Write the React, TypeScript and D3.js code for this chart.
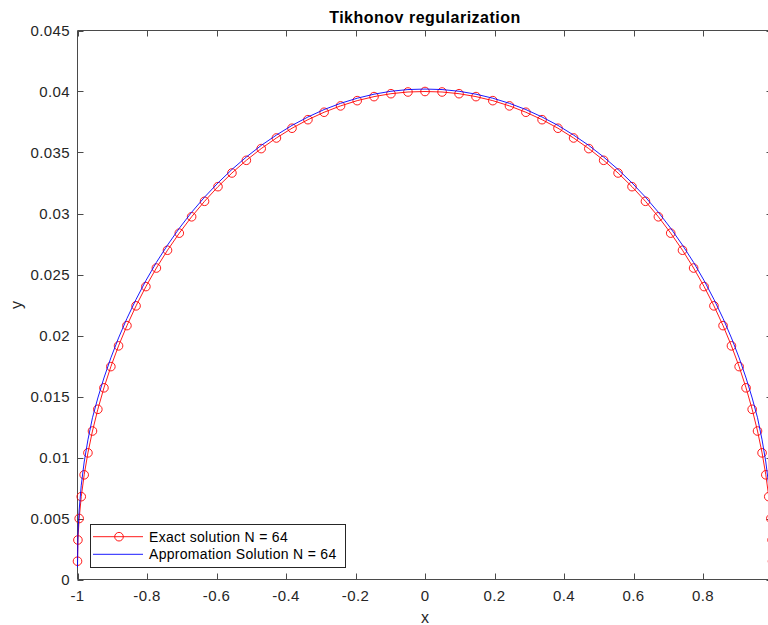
import React from 'react';
import * as d3 from 'd3';

// Node positions (x)
const xValues = [
  -1, -0.9988, -0.9952, -0.9892, -0.9808, -0.97, -0.9569, -0.9415, -0.9239, -0.904, -0.8819,
  -0.8577, -0.8315, -0.8032, -0.773, -0.741, -0.7071, -0.6716, -0.6344, -0.5957, -0.5556,
  -0.5141, -0.4714, -0.4276, -0.3827, -0.3369, -0.2903, -0.243, -0.1951, -0.1467, -0.098,
  -0.0491, 0, 0.0491, 0.098, 0.1467, 0.1951, 0.243, 0.2903, 0.3369, 0.3827, 0.4276, 0.4714,
  0.5141, 0.5556, 0.5957, 0.6344, 0.6716, 0.7071, 0.741, 0.773, 0.8032, 0.8315, 0.8577,
  0.8819, 0.904, 0.9239, 0.9415, 0.9569, 0.97, 0.9808, 0.9892, 0.9952, 0.9988, 1,
];

// Exact solution (red circles)
const exactValues = [
  0.0015, 0.00324, 0.005, 0.00679, 0.00858, 0.01038, 0.01217, 0.01395, 0.01571, 0.01745,
  0.01915, 0.02081, 0.02243, 0.02401, 0.02553, 0.02699, 0.02839, 0.02973, 0.031, 0.0322,
  0.03332, 0.03436, 0.03532, 0.03619, 0.03699, 0.03769, 0.0383, 0.03882, 0.03925, 0.03958,
  0.03982, 0.03996, 0.04, 0.03996, 0.03982, 0.03958, 0.03925, 0.03882, 0.0383, 0.03769,
  0.03699, 0.03619, 0.03532, 0.03436, 0.03332, 0.0322, 0.031, 0.02973, 0.02839, 0.02699,
  0.02553, 0.02401, 0.02243, 0.02081, 0.01915, 0.01745, 0.01571, 0.01395, 0.01217, 0.01038,
  0.00858, 0.00679, 0.005, 0.00324, 0.0015,
];

// Approximate solution (blue line)
const approxValues = [
  0.001, 0.00371, 0.0057, 0.00773, 0.00963, 0.01145, 0.01326, 0.01488, 0.01652, 0.01817,
  0.0198, 0.0214, 0.02296, 0.0245, 0.02599, 0.02741, 0.02879, 0.0301, 0.03134, 0.03251,
  0.03361, 0.03463, 0.03558, 0.03643, 0.03722, 0.03791, 0.03852, 0.03903, 0.03945, 0.03978,
  0.04002, 0.04016, 0.0402, 0.04016, 0.04002, 0.03978, 0.03945, 0.03903, 0.03852, 0.03791,
  0.03722, 0.03643, 0.03558, 0.03463, 0.03361, 0.03251, 0.03134, 0.0301, 0.02879, 0.02741,
  0.02599, 0.0245, 0.02296, 0.0214, 0.0198, 0.01817, 0.01652, 0.01488, 0.01326, 0.01145,
  0.00963, 0.00773, 0.0057, 0.00371, 0.001,
];

// The tick at x = 1 lies just past the right edge of the picture; its label is not visible
const xTicks = [-1, -0.8, -0.6, -0.4, -0.2, 0, 0.2, 0.4, 0.6, 0.8, 1];
const xTickLabels = ['-1', '-0.8', '-0.6', '-0.4', '-0.2', '0', '0.2', '0.4', '0.6', '0.8', ''];
const yTicks = [0, 0.005, 0.01, 0.015, 0.02, 0.025, 0.03, 0.035, 0.04, 0.045];
const yTickLabels = ['0', '0.005', '0.01', '0.015', '0.02', '0.025', '0.03', '0.035', '0.04', '0.045'];
const titleText = 'Tikhonov regularization';
const xLabel = 'x';
const yLabel = 'y';
const legendLabels = ['Exact solution N = 64', 'Appromation Solution N = 64'];

const FONT = '"Liberation Sans", Arial, Helvetica, sans-serif';
const AXIS = '#4a4a4a';
const RED = '#ff0000';
const BLUE = '#0000ff';

export default function App() {
  const W = 768;
  const H = 625;
  const left = 77.5, right = 772.5, top = 30.5, bottom = 579.5;
  const x = d3.scaleLinear().domain([-1, 1]).range([left, right]);
  const y = d3.scaleLinear().domain([0, 0.045]).range([bottom, top]);
  const tick = 6;

  const exactPts: [number, number][] = xValues.map((v, i) => [v, exactValues[i]]);
  const approxPts: [number, number][] = xValues.map((v, i) => [v, approxValues[i]]);
  const line = d3
    .line<[number, number]>()
    .x((d) => x(d[0]))
    .y((d) => y(d[1]));

  const lgX = 90.5, lgY = 524.5, lgW = 255, lgH = 43;
  const row1 = 536.7, row2 = 554.3;

  return (
    <svg
      width={W}
      height={H}
      style={{ position: 'absolute', left: 0, top: 0, background: '#fff' }}
      fontFamily={FONT}
    >
      <rect x={0} y={0} width={W} height={H} fill="#fff" />
      {/* axes box */}
      <path
        d={`M${left},${top}H${right}V${bottom}H${left}Z`}
        fill="none"
        stroke={AXIS}
        strokeWidth={1}
      />
      {/* x ticks */}
      {xTicks.map((t, i) => (
        <g key={'xt' + i}>
          <line x1={Math.round(x(t)) + 0.5} x2={Math.round(x(t)) + 0.5} y1={bottom} y2={bottom - tick} stroke={AXIS} />
          <line x1={Math.round(x(t)) + 0.5} x2={Math.round(x(t)) + 0.5} y1={top} y2={top + tick} stroke={AXIS} />
          {xTickLabels[i] ? (
            <text x={x(t)} y={601} fontSize={15} textAnchor="middle" fill="#262626" letterSpacing={0.4}>
              {xTickLabels[i]}
            </text>
          ) : null}
        </g>
      ))}
      {/* y ticks */}
      {yTicks.map((t, i) => (
        <g key={'yt' + i}>
          <line x1={left} x2={left + tick} y1={Math.round(y(t)) + 0.5} y2={Math.round(y(t)) + 0.5} stroke={AXIS} />
          <line x1={right} x2={right - tick} y1={Math.round(y(t)) + 0.5} y2={Math.round(y(t)) + 0.5} stroke={AXIS} />
          <text x={70} y={y(t) + 5.5} fontSize={15} textAnchor="end" fill="#262626" letterSpacing={0.4}>
            {yTickLabels[i]}
          </text>
        </g>
      ))}
      {/* title */}
      <text x={425} y={22.5} fontSize={16} fontWeight="bold" textAnchor="middle" fill="#000" letterSpacing={0.5}>
        {titleText}
      </text>
      {/* axis labels */}
      <text x={425} y={623} fontSize={16} textAnchor="middle" fill="#262626">
        {xLabel}
      </text>
      <text
        x={0}
        y={0}
        fontSize={16}
        textAnchor="middle"
        fill="#262626"
        transform={`translate(22,${(top + bottom) / 2}) rotate(-90)`}
      >
        {yLabel}
      </text>

      {/* exact solution */}
      <path d={line(exactPts) || ''} fill="none" stroke={RED} strokeWidth={0.9} />
      {exactPts.map((p, i) => (
        <circle key={'c' + i} cx={x(p[0])} cy={y(p[1])} r={4.3} fill="none" stroke={RED} strokeWidth={0.9} />
      ))}
      {/* approximation */}
      <path d={line(approxPts) || ''} fill="none" stroke={BLUE} strokeWidth={0.9} />

      {/* legend */}
      <rect x={lgX} y={lgY} width={lgW} height={lgH} fill="#fff" stroke="#262626" strokeWidth={1} />
      <line x1={93} x2={143} y1={row1} y2={row1} stroke={RED} strokeWidth={0.9} />
      <circle cx={119} cy={row1} r={4.3} fill="none" stroke={RED} strokeWidth={0.9} />
      <text x={149} y={row1 + 5} fontSize={14} fill="#000" letterSpacing={0.3}>
        {legendLabels[0]}
      </text>
      <line x1={93} x2={143} y1={row2} y2={row2} stroke={BLUE} strokeWidth={0.9} />
      <text x={149} y={row2 + 5} fontSize={14} fill="#000" letterSpacing={0.3}>
        {legendLabels[1]}
      </text>
    </svg>
  );
}
